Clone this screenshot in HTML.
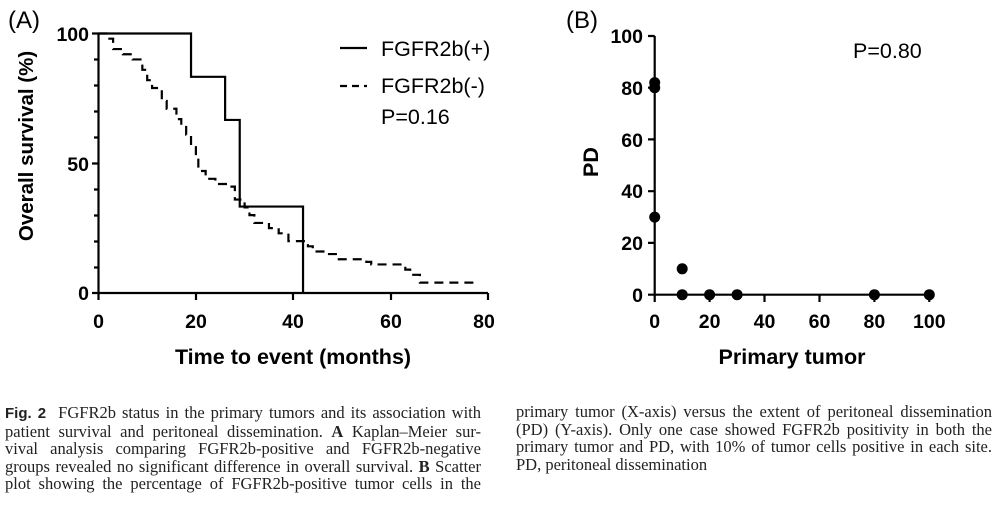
<!DOCTYPE html>
<html><head><meta charset="utf-8"><style>
body{margin:0;background:#fff;width:1003px;height:510px;overflow:hidden;position:relative;font-family:"Liberation Serif",serif}
.cap{position:absolute;font-size:16.5px;line-height:17.5px;color:#222;width:476px}
.cap div{white-space:nowrap;text-align:justify;text-align-last:justify}
.cap div.l{text-align-last:left}
</style></head><body>
<svg width="1003" height="390" style="position:absolute;left:0;top:0" font-family="Liberation Sans, sans-serif">
<text x="8" y="28" font-size="24">(A)</text>
<g stroke="#000" stroke-width="2.2" fill="none">
<path d="M98.5 33 V293 H488"/>
<path d="M92 33.5H98.5M92 163.5H98.5M92 293H98.5 M94 59.5H98.5M94 85.5H98.5M94 111.5H98.5M94 137.5H98.5M94 189.5H98.5M94 215.5H98.5M94 241.5H98.5M94 267.5H98.5"/>
<path d="M98.5 293V300M196 293V300M293 293V300M391 293V300M488 293V300"/>
</g>
<g transform="translate(98.5,293) scale(4.87,-2.595)" fill="none" stroke="#000">
<path vector-effect="non-scaling-stroke" stroke-width="2.2" d="M0 100H19V83.3H26V66.7H29V33.3H42V0"/>
<path vector-effect="non-scaling-stroke" stroke-width="2.2" stroke-dasharray="9 6" d="M0 100H2V98H3V94H5V92H7V90H9V86H10V82H11V79H13V74H14V71H16V67H17V64H18V61H19V57H20V52H20.5V47H22V44H24V42H27V41H28V36H30V33H31V30H32V27H35V25H37V23H39V20H43V18H44V16H47V15H49V13H55V12H56V11H63V9H64V7H66V4H77V5"/>
</g>
<g font-weight="bold" font-size="19.5" text-anchor="end">
<text x="89" y="41">100</text><text x="89" y="171">50</text><text x="89" y="300">0</text>
</g>
<g font-weight="bold" font-size="19.5" text-anchor="middle">
<text x="98.5" y="328">0</text><text x="196" y="328">20</text><text x="293" y="328">40</text><text x="391" y="328">60</text><text x="484" y="328">80</text>
</g>
<text x="293" y="364" font-weight="bold" font-size="21.5" text-anchor="middle">Time to event (months)</text>
<text transform="translate(33,146) rotate(-90)" font-weight="bold" font-size="20.5" text-anchor="middle">Overall survival (%)</text>
<g stroke="#000" stroke-width="2.2"><path d="M340 48H367"/><path d="M340 86H367" stroke-dasharray="7 5"/></g>
<g font-size="21.5"><text x="381" y="56">FGFR2b(+)</text><text x="381" y="93">FGFR2b(-)</text><text x="381" y="124">P=0.16</text></g>

<text x="566" y="28" font-size="24">(B)</text>
<g stroke="#000" stroke-width="2.2" fill="none">
<path d="M654.7 36V294.7H929.3"/>
<path d="M648 36H654.7M648 87.7H654.7M648 139.4H654.7M648 191.2H654.7M648 242.9H654.7M648 294.7H654.7"/>
<path d="M654.7 294.7V302M709.6 294.7V302M764.5 294.7V302M819.5 294.7V302M874.4 294.7V302M929.3 294.7V302"/>
</g>
<g fill="#000">
<circle cx="654.7" cy="82.6" r="5.5"/><circle cx="654.7" cy="87.7" r="5.5"/><circle cx="654.7" cy="217.1" r="5.5"/>
<circle cx="682.2" cy="268.8" r="5.5"/><circle cx="682.2" cy="294.7" r="5.5"/><circle cx="709.6" cy="294.7" r="5.5"/>
<circle cx="737.1" cy="294.7" r="5.5"/><circle cx="874.4" cy="294.7" r="5.5"/><circle cx="929.3" cy="294.7" r="5.5"/>
</g>
<g font-weight="bold" font-size="19.5" text-anchor="end">
<text x="643" y="43">100</text><text x="643" y="95">80</text><text x="643" y="147">60</text><text x="643" y="198">40</text><text x="643" y="250">20</text><text x="643" y="302">0</text>
</g>
<g font-weight="bold" font-size="19.5" text-anchor="middle">
<text x="654.7" y="328">0</text><text x="709.6" y="328">20</text><text x="764.5" y="328">40</text><text x="819.5" y="328">60</text><text x="874.4" y="328">80</text><text x="929.3" y="328">100</text>
</g>
<text x="792" y="364" font-weight="bold" font-size="21.5" text-anchor="middle">Primary tumor</text>
<text transform="translate(598,162) rotate(-90)" font-weight="bold" font-size="21.5" text-anchor="middle">PD</text>
<text x="853" y="58" font-size="21.5">P=0.80</text>
</svg>
<div class="cap" style="left:5px;top:404px">
<div><span style="font-family:'Liberation Sans',sans-serif;font-weight:bold;font-size:15px">Fig. 2</span>&nbsp; FGFR2b status in the primary tumors and its association with</div>
<div>patient survival and peritoneal dissemination. <b>A</b> Kaplan–Meier sur-</div>
<div>vival analysis comparing FGFR2b-positive and FGFR2b-negative</div>
<div>groups revealed no significant difference in overall survival. <b>B</b> Scatter</div>
<div>plot showing the percentage of FGFR2b-positive tumor cells in the</div>
</div>
<div class="cap" style="left:516px;top:403px">
<div>primary tumor (X-axis) versus the extent of peritoneal dissemination</div>
<div>(PD) (Y-axis). Only one case showed FGFR2b positivity in both the</div>
<div>primary tumor and PD, with 10% of tumor cells positive in each site.</div>
<div class="l">PD, peritoneal dissemination</div>
</div>
</body></html>
